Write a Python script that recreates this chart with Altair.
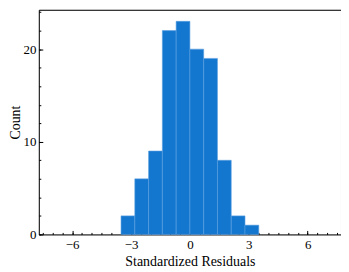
import altair as alt
import pandas as pd

# Histogram data
bin_edges = [-3.51, -2.808, -2.106, -1.404, -0.702, 0.0, 0.702, 1.404, 2.106, 2.808, 3.51]
counts = [2, 6, 9, 22, 23, 20, 19, 8, 2, 1]

x_major = [-6, -3, 0, 3, 6]
x_minor = [v / 2 for v in range(-15, 16)]
y_major = [0, 10, 20]
y_minor = list(range(0, 25, 2))

X_DOMAIN = [-7.7, 7.7]
Y_DOMAIN = [0, 24.25]
W, H = 304, 226
FONT = "Liberation Serif"

df = pd.DataFrame({
    "start": bin_edges[:-1],
    "end": bin_edges[1:],
    "count": counts,
    "base": [0] * len(counts),
})

xs = alt.Scale(domain=X_DOMAIN, nice=False, zero=False)
ys = alt.Scale(domain=Y_DOMAIN, nice=False, zero=True)

bars = alt.Chart(df).mark_rect(color="#1477cf", stroke="#5a9fe0", strokeWidth=0.6).encode(
    x=alt.X("start:Q", scale=xs, axis=alt.Axis(
        title="Standardized Residuals", values=x_major, ticks=False, labelPadding=4,
        titlePadding=3, domainColor="black", labelFont=FONT, titleFont=FONT,
        labelFontSize=13, titleFontSize=14, titleFontWeight="normal", labelColor="black",
        titleColor="black", grid=False)),
    x2="end:Q",
    y=alt.Y("count:Q", scale=ys, axis=alt.Axis(
        title="Count", values=y_major, ticks=False, labelPadding=3, titlePadding=0,
        domainColor="black", labelFont=FONT, titleFont=FONT, labelFontSize=13,
        titleFontSize=14, titleFontWeight="normal", labelColor="black",
        titleColor="black", grid=False)),
    y2="base:Q",
)


def tick_layer(xvals, yvals, size):
    return alt.Chart(df).mark_rect(opacity=0).encode(
        x=alt.X("start:Q", scale=xs, axis=alt.Axis(
            orient="top", offset=-H, values=xvals, tickSize=size, tickColor="black",
            labels=False, domain=False, title=None, grid=False)),
        x2="end:Q",
        y=alt.Y("count:Q", scale=ys, axis=alt.Axis(
            orient="right", offset=-W, values=yvals, tickSize=size, tickColor="black",
            labels=False, domain=False, title=None, grid=False)),
        y2="base:Q",
    )


# frame (top and right spines) drawn as axis domains
frame = alt.Chart(df).mark_rect(opacity=0).encode(
    x=alt.X("start:Q", scale=xs, axis=alt.Axis(
        orient="top", ticks=False, labels=False, domain=True, domainColor="black",
        title=None, grid=False)),
    x2="end:Q",
    y=alt.Y("count:Q", scale=ys, axis=alt.Axis(
        orient="right", ticks=False, labels=False, domain=True, domainColor="black",
        title=None, grid=False)),
    y2="base:Q",
)

chart = alt.layer(
    bars,
    tick_layer(x_major, y_major, 4),
    tick_layer(x_minor, y_minor, 2),
    frame,
).resolve_scale(x="independent", y="independent").resolve_axis(
    x="independent", y="independent"
).properties(
    width=W, height=H,
    autosize=alt.AutoSizeParams(type="none"),
    padding={"left": 31, "top": 1, "right": 0, "bottom": 35},
).configure_view(stroke="black", strokeWidth=1).configure(
    background="white", font=FONT
)

chart.save("out.html", embed_options={"renderer": "svg", "actions": False})
